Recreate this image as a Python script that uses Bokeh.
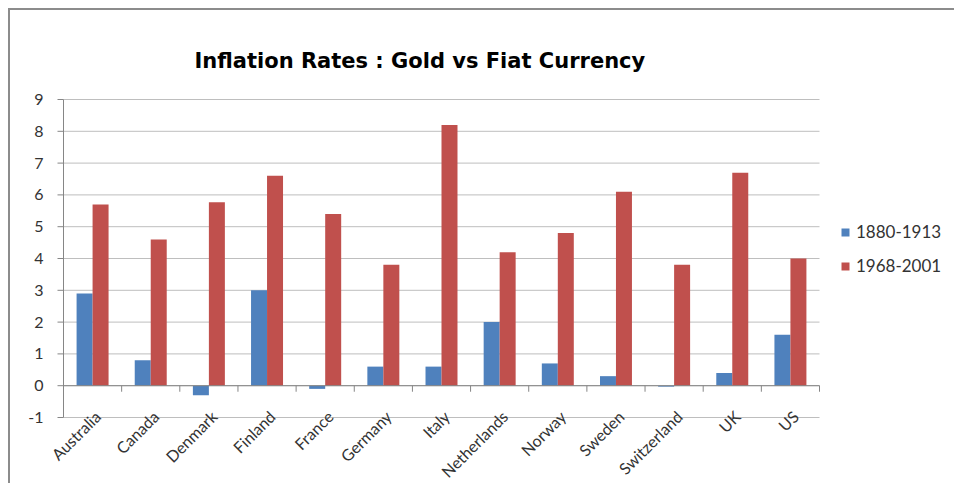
import math
from bokeh.plotting import figure
from bokeh.models import (Range1d, Legend, LegendItem, ColumnDataSource, Title)
from bokeh.core.properties import value
from bokeh.transform import dodge
from bokeh.embed import file_html
from bokeh.resources import INLINE

countries = ["Australia", "Canada", "Denmark", "Finland", "France", "Germany",
             "Italy", "Netherlands", "Norway", "Sweden", "Switzerland", "UK", "US"]
gold_1880_1913 = [2.9, 0.8, -0.3, 3.0, -0.1, 0.6, 0.6, 2.0, 0.7, 0.3, -0.03, 0.4, 1.6]
fiat_1968_2001 = [5.7, 4.6, 5.77, 6.6, 5.4, 3.8, 8.2, 4.2, 4.8, 6.1, 3.8, 6.7, 4.0]
series_names = ["1880-1913", "1968-2001"]
y_ticks = list(range(-1, 10))
y_tick_labels = [str(v) for v in y_ticks]
title_text = "Inflation Rates :   Gold  vs  Fiat Currency"

n = len(countries)
y_min, y_max = min(y_ticks), max(y_ticks)
centers = [i + 0.5 for i in range(n)]
boundaries = list(range(n + 1))
src = ColumnDataSource(dict(x=centers, gold=gold_1880_1913, fiat=fiat_1968_2001,
                            name=countries, base=[y_min] * n))
ysrc = ColumnDataSource(dict(y=y_ticks, label=y_tick_labels,
                             zero=[0] * len(y_ticks), end=[n] * len(y_ticks)))

FONT = "Lato"
TXT = "#333333"
GRID = "#BEBEBE"
AXIS = "#868686"

# page layout (pixels)
W, H = 954, 483
TOP = 90                      # title area above the plotting frame
AX_TOP = 99                   # pixel position of the highest value tick
AX_LEFT = 63                  # pixel position of the value axis
plot_w, plot_h = 756, 318     # pixel extent of the category area / value axis
frame_h = H - TOP
ux = plot_w / n                          # pixels per category
uy = plot_h / (y_max - y_min)            # pixels per value unit
x_start = -AX_LEFT / ux
x_end = (W - AX_LEFT) / ux
y_end = y_max + (AX_TOP - TOP) / uy
y_start = y_end - frame_h / uy
tick_len = 6 / ux

border_css = """
:host::after {
  content: "";
  position: absolute;
  left: 8px; top: 8px; right: 0; bottom: 0;
  border-left: 2px solid #8c8c8c;
  border-top: 2px solid #8c8c8c;
  pointer-events: none;
  z-index: 10;
}
"""

p = figure(width=W, height=H,
           x_range=Range1d(x_start, x_end), y_range=Range1d(y_start, y_end),
           x_axis_location=None, y_axis_location=None,
           output_backend="svg", toolbar_location=None,
           min_border_left=0, min_border_right=0,
           min_border_top=TOP, min_border_bottom=0,
           stylesheets=[border_css])
p.outline_line_color = None
p.xgrid.grid_line_color = None
p.ygrid.grid_line_color = None

p.title = Title(text=title_text, align="left", offset=194, standoff=36,
                text_font="DejaVu Sans", text_font_style="bold",
                text_font_size="21px", text_color="#000000")

# horizontal grid lines over the category area
p.segment(x0="zero", x1="end", y0="y", y1="y", source=ysrc,
          line_color=GRID, line_width=1)

# value axis: line, outward ticks and labels
p.segment(x0=[0], x1=[0], y0=[y_min], y1=[y_max], line_color=AXIS, line_width=1)
p.segment(x0=[-tick_len] * len(y_ticks), x1=[0] * len(y_ticks), y0=y_ticks, y1=y_ticks,
          line_color=AXIS, line_width=1)
p.text(x="zero", y="y", text="label", source=ysrc, x_offset=-20,
       text_align="right", text_baseline="middle",
       text_font=value(FONT), text_font_size="16px", text_color=TXT)

# bars
r1 = p.vbar(x=dodge("x", -0.1375, range=p.x_range), top="gold", bottom=0, width=0.275,
            source=src, fill_color="#4F81BD", line_color=None)
r2 = p.vbar(x=dodge("x", 0.1375, range=p.x_range), top="fiat", bottom=0, width=0.275,
            source=src, fill_color="#C0504D", line_color=None)

# category axis line at zero with tick marks between categories
p.segment(x0=[0], x1=[n], y0=[0], y1=[0], line_color=AXIS, line_width=1)
p.segment(x0=boundaries, x1=boundaries, y0=[0] * len(boundaries),
          y1=[-0.19] * len(boundaries), line_color=AXIS, line_width=1)

# rotated category labels below the lowest grid line
p.text(x="x", y="base", text="name", source=src, angle=math.pi / 4,
       x_offset=5, y_offset=-4, text_align="right", text_baseline="middle",
       text_font=value(FONT), text_font_size="16px", text_color=TXT)

legend = Legend(items=[LegendItem(label=series_names[0], renderers=[r1]),
                       LegendItem(label=series_names[1], renderers=[r2])],
                location=(AX_LEFT + plot_w + 21, H - 276), orientation="vertical",
                glyph_width=10, glyph_height=10, label_height=20, spacing=13,
                padding=0, margin=0, border_line_color=None,
                background_fill_alpha=0,
                label_text_font=FONT, label_text_font_size="17px",
                label_text_color=TXT, label_standoff=6)
p.add_layout(legend, "center")

open("out.html", "w").write(file_html(p, INLINE))
